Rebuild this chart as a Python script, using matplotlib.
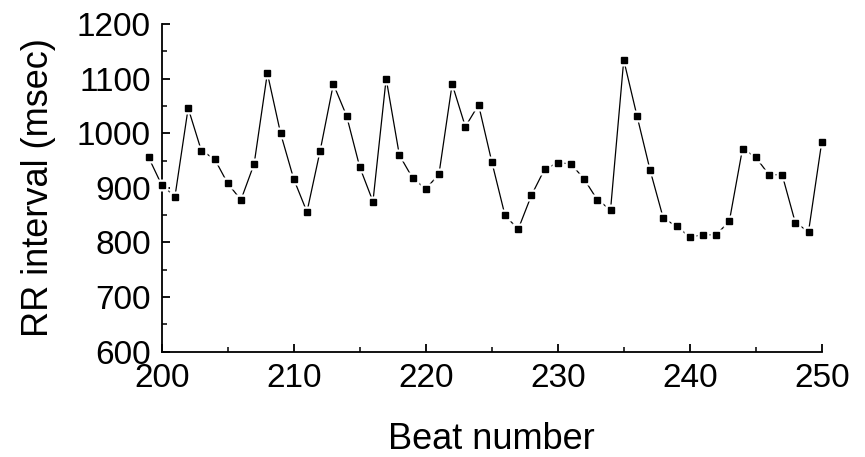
import matplotlib
matplotlib.use("Agg")
import matplotlib.pyplot as plt
from matplotlib.ticker import MultipleLocator

plt.rcParams['font.family'] = ['Liberation Sans', 'DejaVu Sans']

beats = list(range(199, 251))
rr = [956, 905, 884, 1046, 968, 953, 908, 878, 944, 1110,
      1000, 916, 856, 968, 1090, 1032, 938, 875, 1100, 960,
      918, 898, 925, 1090, 1012, 1052, 948, 850, 824, 886,
      934, 946, 944, 916, 878, 860, 1134, 1032, 932, 844,
      830, 810, 814, 814, 839, 972, 956, 924, 924, 836,
      820, 984]

fig = plt.figure(figsize=(8.65, 4.57), dpi=100)
ax = fig.add_axes([0.187, 0.2304, 0.763, 0.7171])

# line, then a white halo under each marker so the line stops short of it
ax.plot(beats, rr, color='black', lw=0.9, clip_on=False, zorder=2)
ax.plot(beats, rr, ls='none', marker='s', ms=8.5, mfc='white', mec='none',
        clip_on=False, zorder=3)
ax.plot(beats, rr, ls='none', marker='s', ms=4.6, mfc='black', mec='black',
        clip_on=False, zorder=4)

ax.set_xlim(200, 250)
ax.set_ylim(600, 1200)
ax.xaxis.set_major_locator(MultipleLocator(10))
ax.xaxis.set_minor_locator(MultipleLocator(5))
ax.yaxis.set_major_locator(MultipleLocator(100))
ax.yaxis.set_minor_locator(MultipleLocator(50))

for side in ('top', 'right'):
    ax.spines[side].set_visible(False)
for side in ('left', 'bottom'):
    ax.spines[side].set_linewidth(1.3)

ax.tick_params(which='major', direction='in', length=6, width=1.3,
               labelsize=24, pad=8)
ax.tick_params(which='minor', direction='in', length=3.5, width=1.1)

ax.set_xlabel('Beat number', fontsize=26, labelpad=20)
ax.set_ylabel('RR interval (msec)', fontsize=26, labelpad=15)

fig.savefig('out.png', dpi=100)
